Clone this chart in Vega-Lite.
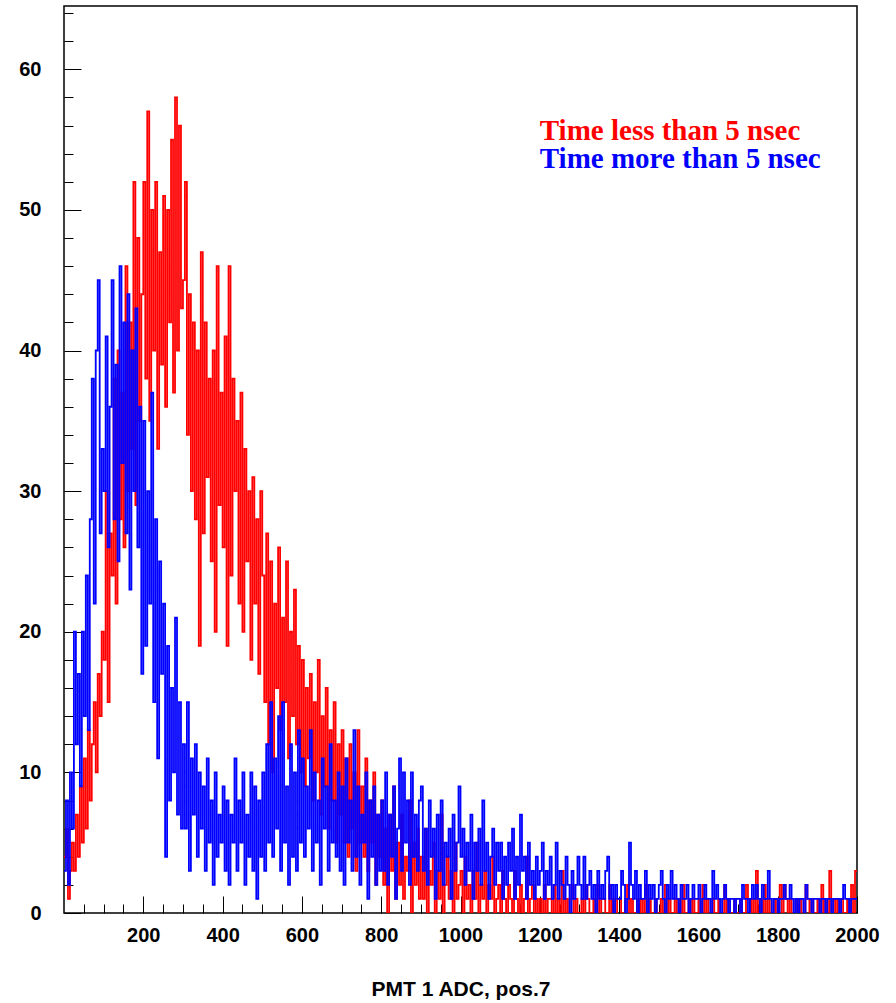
{
"$schema":"https://vega.github.io/schema/vega-lite/v6.json",
"width":793,"height":907,
"autosize":{"type":"none"},
"padding":{"left":64,"top":6,"right":39,"bottom":90},
"background":"white",
"config":{"view":{"stroke":"black","strokeWidth":1.5}},
"data":{"values":[
{"x":0,"r":4,"b":3},{"x":5,"r":6,"b":8},{"x":10,"r":1,"b":2},{"x":15,"r":3,"b":10},{"x":20,"r":5,"b":6},{"x":25,"r":3,"b":20},{"x":30,"r":7,"b":12},{"x":35,"r":4,"b":17},{"x":40,"r":9,"b":9},{"x":45,"r":5,"b":20},{"x":50,"r":11,"b":14},{"x":55,"r":6,"b":24},{"x":60,"r":13,"b":13},{"x":65,"r":8,"b":28},{"x":70,"r":12,"b":38},{"x":75,"r":15,"b":22},{"x":80,"r":10,"b":40},{"x":85,"r":17,"b":45},{"x":90,"r":14,"b":27},{"x":95,"r":20,"b":33},
{"x":100,"r":18,"b":30},{"x":105,"r":30,"b":41},{"x":110,"r":15,"b":26},{"x":115,"r":27,"b":36},{"x":120,"r":24,"b":45},{"x":125,"r":38,"b":28},{"x":130,"r":22,"b":39},{"x":135,"r":40,"b":25},{"x":140,"r":28,"b":46},{"x":145,"r":37,"b":32},{"x":150,"r":26,"b":42},{"x":155,"r":46,"b":27},{"x":160,"r":30,"b":44},{"x":165,"r":42,"b":23},{"x":170,"r":33,"b":40},{"x":175,"r":52,"b":30},{"x":180,"r":29,"b":43},{"x":185,"r":48,"b":26},{"x":190,"r":35,"b":36},{"x":195,"r":44,"b":17},
{"x":200,"r":52,"b":35},{"x":205,"r":38,"b":19},{"x":210,"r":57,"b":30},{"x":215,"r":35,"b":22},{"x":220,"r":50,"b":37},{"x":225,"r":40,"b":15},{"x":230,"r":52,"b":28},{"x":235,"r":33,"b":11},{"x":240,"r":47,"b":25},{"x":245,"r":39,"b":17},{"x":250,"r":51,"b":22},{"x":255,"r":36,"b":4},{"x":260,"r":50,"b":19},{"x":265,"r":42,"b":8},{"x":270,"r":55,"b":16},{"x":275,"r":37,"b":10},{"x":280,"r":58,"b":21},{"x":285,"r":40,"b":7},{"x":290,"r":56,"b":15},{"x":295,"r":43,"b":6},
{"x":300,"r":45,"b":12},{"x":305,"r":52,"b":6},{"x":310,"r":34,"b":15},{"x":315,"r":44,"b":3},{"x":320,"r":30,"b":11},{"x":325,"r":42,"b":7},{"x":330,"r":28,"b":12},{"x":335,"r":40,"b":4},{"x":340,"r":19,"b":10},{"x":345,"r":47,"b":6},{"x":350,"r":27,"b":9},{"x":355,"r":42,"b":3},{"x":360,"r":31,"b":11},{"x":365,"r":38,"b":5},{"x":370,"r":25,"b":8},{"x":375,"r":40,"b":2},{"x":380,"r":20,"b":10},{"x":385,"r":46,"b":4},{"x":390,"r":29,"b":7},{"x":395,"r":37,"b":5},
{"x":400,"r":26,"b":9},{"x":405,"r":41,"b":3},{"x":410,"r":19,"b":8},{"x":415,"r":46,"b":2},{"x":420,"r":24,"b":7},{"x":425,"r":38,"b":5},{"x":430,"r":30,"b":11},{"x":435,"r":35,"b":3},{"x":440,"r":22,"b":8},{"x":445,"r":37,"b":5},{"x":450,"r":20,"b":10},{"x":455,"r":33,"b":2},{"x":460,"r":25,"b":7},{"x":465,"r":30,"b":4},{"x":470,"r":18,"b":10},{"x":475,"r":31,"b":3},{"x":480,"r":22,"b":9},{"x":485,"r":28,"b":1},{"x":490,"r":17,"b":8},{"x":495,"r":30,"b":4},
{"x":500,"r":24,"b":10},{"x":505,"r":15,"b":3},{"x":510,"r":27,"b":12},{"x":515,"r":12,"b":5},{"x":520,"r":25,"b":15},{"x":525,"r":10,"b":4},{"x":530,"r":22,"b":11},{"x":535,"r":16,"b":6},{"x":540,"r":26,"b":14},{"x":545,"r":13,"b":3},{"x":550,"r":21,"b":15},{"x":555,"r":15,"b":5},{"x":560,"r":25,"b":9},{"x":565,"r":11,"b":2},{"x":570,"r":20,"b":12},{"x":575,"r":14,"b":4},{"x":580,"r":23,"b":10},{"x":585,"r":12,"b":3},{"x":590,"r":19,"b":13},{"x":595,"r":10,"b":5},
{"x":600,"r":18,"b":11},{"x":605,"r":9,"b":4},{"x":610,"r":16,"b":9},{"x":615,"r":11,"b":6},{"x":620,"r":17,"b":13},{"x":625,"r":8,"b":3},{"x":630,"r":15,"b":10},{"x":635,"r":10,"b":5},{"x":640,"r":18,"b":8},{"x":645,"r":7,"b":2},{"x":650,"r":14,"b":11},{"x":655,"r":9,"b":6},{"x":660,"r":16,"b":9},{"x":665,"r":6,"b":3},{"x":670,"r":13,"b":12},{"x":675,"r":8,"b":5},{"x":680,"r":15,"b":8},{"x":685,"r":5,"b":4},{"x":690,"r":12,"b":10},{"x":695,"r":7,"b":3},
{"x":700,"r":13,"b":9},{"x":705,"r":5,"b":2},{"x":710,"r":11,"b":11},{"x":715,"r":4,"b":5},{"x":720,"r":12,"b":8},{"x":725,"r":6,"b":3},{"x":730,"r":10,"b":13},{"x":735,"r":3,"b":4},{"x":740,"r":13,"b":9},{"x":745,"r":5,"b":2},{"x":750,"r":9,"b":7},{"x":755,"r":4,"b":5},{"x":760,"r":11,"b":10},{"x":765,"r":3,"b":1},{"x":770,"r":8,"b":8},{"x":775,"r":5,"b":4},{"x":780,"r":10,"b":9},{"x":785,"r":2,"b":2},{"x":790,"r":7,"b":7},{"x":795,"r":4,"b":3},
{"x":800,"r":8,"b":8},{"x":805,"r":2,"b":3},{"x":810,"r":6,"b":10},{"x":815,"r":0,"b":2},{"x":820,"r":7,"b":7},{"x":825,"r":3,"b":4},{"x":830,"r":9,"b":9},{"x":835,"r":1,"b":1},{"x":840,"r":5,"b":6},{"x":845,"r":2,"b":11},{"x":850,"r":7,"b":3},{"x":855,"r":1,"b":10},{"x":860,"r":4,"b":5},{"x":865,"r":3,"b":8},{"x":870,"r":8,"b":2},{"x":875,"r":0,"b":10},{"x":880,"r":5,"b":4},{"x":885,"r":2,"b":7},{"x":890,"r":6,"b":3},{"x":895,"r":1,"b":8},
{"x":900,"r":4,"b":9},{"x":905,"r":1,"b":3},{"x":910,"r":6,"b":6},{"x":915,"r":0,"b":2},{"x":920,"r":3,"b":8},{"x":925,"r":2,"b":4},{"x":930,"r":5,"b":6},{"x":935,"r":0,"b":1},{"x":940,"r":3,"b":7},{"x":945,"r":1,"b":3},{"x":950,"r":7,"b":8},{"x":955,"r":0,"b":2},{"x":960,"r":2,"b":5},{"x":965,"r":4,"b":4},{"x":970,"r":1,"b":6},{"x":975,"r":3,"b":1},{"x":980,"r":0,"b":7},{"x":985,"r":5,"b":3},{"x":990,"r":1,"b":5},{"x":995,"r":2,"b":9},
{"x":1000,"r":3,"b":4},{"x":1005,"r":0,"b":6},{"x":1010,"r":4,"b":2},{"x":1015,"r":1,"b":5},{"x":1020,"r":2,"b":3},{"x":1025,"r":0,"b":7},{"x":1030,"r":3,"b":1},{"x":1035,"r":1,"b":5},{"x":1040,"r":5,"b":3},{"x":1045,"r":0,"b":6},{"x":1050,"r":2,"b":2},{"x":1055,"r":1,"b":8},{"x":1060,"r":3,"b":3},{"x":1065,"r":0,"b":5},{"x":1070,"r":2,"b":1},{"x":1075,"r":1,"b":4},{"x":1080,"r":4,"b":6},{"x":1085,"r":0,"b":2},{"x":1090,"r":1,"b":5},{"x":1095,"r":2,"b":3},
{"x":1100,"r":0,"b":5},{"x":1105,"r":3,"b":1},{"x":1110,"r":1,"b":4},{"x":1115,"r":0,"b":2},{"x":1120,"r":2,"b":5},{"x":1125,"r":1,"b":3},{"x":1130,"r":0,"b":6},{"x":1135,"r":3,"b":1},{"x":1140,"r":1,"b":4},{"x":1145,"r":0,"b":2},{"x":1150,"r":2,"b":7},{"x":1155,"r":0,"b":3},{"x":1160,"r":1,"b":4},{"x":1165,"r":4,"b":1},{"x":1170,"r":0,"b":5},{"x":1175,"r":1,"b":2},{"x":1180,"r":2,"b":3},{"x":1185,"r":0,"b":1},{"x":1190,"r":1,"b":4},{"x":1195,"r":0,"b":2},
{"x":1200,"r":1,"b":3},{"x":1205,"r":0,"b":5},{"x":1210,"r":2,"b":1},{"x":1215,"r":0,"b":3},{"x":1220,"r":1,"b":2},{"x":1225,"r":1,"b":4},{"x":1230,"r":0,"b":1},{"x":1235,"r":2,"b":2},{"x":1240,"r":0,"b":5},{"x":1245,"r":1,"b":1},{"x":1250,"r":0,"b":3},{"x":1255,"r":3,"b":2},{"x":1260,"r":0,"b":1},{"x":1265,"r":1,"b":4},{"x":1270,"r":0,"b":2},{"x":1275,"r":1,"b":0},{"x":1280,"r":2,"b":3},{"x":1285,"r":0,"b":1},{"x":1290,"r":1,"b":2},{"x":1295,"r":0,"b":4},
{"x":1300,"r":0,"b":2},{"x":1305,"r":1,"b":1},{"x":1310,"r":0,"b":4},{"x":1315,"r":2,"b":1},{"x":1320,"r":1,"b":2},{"x":1325,"r":0,"b":3},{"x":1330,"r":0,"b":1},{"x":1335,"r":1,"b":2},{"x":1340,"r":0,"b":0},{"x":1345,"r":2,"b":3},{"x":1350,"r":0,"b":1},{"x":1355,"r":1,"b":2},{"x":1360,"r":1,"b":1},{"x":1365,"r":0,"b":3},{"x":1370,"r":0,"b":4},{"x":1375,"r":2,"b":1},{"x":1380,"r":0,"b":2},{"x":1385,"r":1,"b":0},{"x":1390,"r":0,"b":2},{"x":1395,"r":1,"b":1},
{"x":1400,"r":1,"b":1},{"x":1405,"r":0,"b":3},{"x":1410,"r":0,"b":2},{"x":1415,"r":1,"b":0},{"x":1420,"r":2,"b":1},{"x":1425,"r":0,"b":5},{"x":1430,"r":1,"b":2},{"x":1435,"r":0,"b":1},{"x":1440,"r":0,"b":3},{"x":1445,"r":1,"b":0},{"x":1450,"r":0,"b":2},{"x":1455,"r":1,"b":1},{"x":1460,"r":0,"b":1},{"x":1465,"r":2,"b":3},{"x":1470,"r":0,"b":0},{"x":1475,"r":1,"b":2},{"x":1480,"r":0,"b":1},{"x":1485,"r":0,"b":2},{"x":1490,"r":1,"b":0},{"x":1495,"r":0,"b":1},
{"x":1500,"r":0,"b":2},{"x":1505,"r":1,"b":3},{"x":1510,"r":0,"b":1},{"x":1515,"r":2,"b":0},{"x":1520,"r":0,"b":2},{"x":1525,"r":1,"b":1},{"x":1530,"r":0,"b":3},{"x":1535,"r":0,"b":1},{"x":1540,"r":1,"b":2},{"x":1545,"r":0,"b":1},{"x":1550,"r":1,"b":0},{"x":1555,"r":0,"b":2},{"x":1560,"r":2,"b":1},{"x":1565,"r":0,"b":1},{"x":1570,"r":0,"b":2},{"x":1575,"r":1,"b":0},{"x":1580,"r":0,"b":1},{"x":1585,"r":1,"b":2},{"x":1590,"r":0,"b":1},{"x":1595,"r":0,"b":1},
{"x":1600,"r":1,"b":2},{"x":1605,"r":0,"b":0},{"x":1610,"r":2,"b":1},{"x":1615,"r":0,"b":2},{"x":1620,"r":1,"b":1},{"x":1625,"r":0,"b":1},{"x":1630,"r":0,"b":0},{"x":1635,"r":1,"b":3},{"x":1640,"r":0,"b":1},{"x":1645,"r":0,"b":2},{"x":1650,"r":1,"b":1},{"x":1655,"r":0,"b":0},{"x":1660,"r":0,"b":1},{"x":1665,"r":2,"b":2},{"x":1670,"r":0,"b":1},{"x":1675,"r":1,"b":0},{"x":1680,"r":0,"b":1},{"x":1685,"r":0,"b":1},{"x":1690,"r":1,"b":0},{"x":1695,"r":0,"b":1},
{"x":1700,"r":0,"b":1},{"x":1705,"r":1,"b":0},{"x":1710,"r":0,"b":2},{"x":1715,"r":0,"b":1},{"x":1720,"r":2,"b":1},{"x":1725,"r":1,"b":0},{"x":1730,"r":0,"b":1},{"x":1735,"r":1,"b":2},{"x":1740,"r":0,"b":1},{"x":1745,"r":3,"b":2},{"x":1750,"r":0,"b":1},{"x":1755,"r":1,"b":0},{"x":1760,"r":0,"b":2},{"x":1765,"r":2,"b":1},{"x":1770,"r":0,"b":1},{"x":1775,"r":1,"b":3},{"x":1780,"r":0,"b":1},{"x":1785,"r":0,"b":0},{"x":1790,"r":1,"b":1},{"x":1795,"r":0,"b":1},
{"x":1800,"r":1,"b":0},{"x":1805,"r":2,"b":1},{"x":1810,"r":0,"b":1},{"x":1815,"r":2,"b":2},{"x":1820,"r":1,"b":1},{"x":1825,"r":0,"b":1},{"x":1830,"r":1,"b":2},{"x":1835,"r":0,"b":1},{"x":1840,"r":0,"b":0},{"x":1845,"r":1,"b":1},{"x":1850,"r":0,"b":0},{"x":1855,"r":1,"b":1},{"x":1860,"r":0,"b":1},{"x":1865,"r":0,"b":0},{"x":1870,"r":2,"b":2},{"x":1875,"r":1,"b":1},{"x":1880,"r":0,"b":1},{"x":1885,"r":1,"b":0},{"x":1890,"r":0,"b":1},{"x":1895,"r":0,"b":1},
{"x":1900,"r":1,"b":1},{"x":1905,"r":0,"b":0},{"x":1910,"r":2,"b":1},{"x":1915,"r":0,"b":1},{"x":1920,"r":1,"b":0},{"x":1925,"r":0,"b":1},{"x":1930,"r":3,"b":1},{"x":1935,"r":0,"b":0},{"x":1940,"r":1,"b":1},{"x":1945,"r":0,"b":1},{"x":1950,"r":1,"b":1},{"x":1955,"r":0,"b":0},{"x":1960,"r":1,"b":1},{"x":1965,"r":0,"b":2},{"x":1970,"r":0,"b":1},{"x":1975,"r":1,"b":1},{"x":1980,"r":0,"b":0},{"x":1985,"r":2,"b":1},{"x":1990,"r":0,"b":1},{"x":1995,"r":3,"b":1},
{"x":2000,"r":3,"b":1}
]},
"resolve":{"axis":{"x":"independent","y":"independent"}},
"layer":[
{"mark":{"type":"line","interpolate":"step-after","color":"#ff0000","strokeWidth":1.8,"clip":true},
 "encoding":{
  "x":{"field":"x","type":"quantitative","scale":{"domain":[0,2000],"nice":false,"zero":false},
   "axis":{"orient":"bottom","values":[200,400,600,800,1000,1200,1400,1600,1800,2000],
    "format":"d","domain":false,"grid":false,"labelFlush":false,"labelOverlap":false,
    "tickColor":"black","tickWidth":1,"tickSize":-17,
    "labelPadding":29,"labelFont":"Liberation Sans","labelFontWeight":"bold","labelFontSize":20,"labelColor":"black",
    "title":"PMT 1 ADC, pos.7","titleFont":"Liberation Sans","titleFontWeight":"bold","titleFontSize":21,"titleColor":"black","titlePadding":33}},
  "y":{"field":"r","type":"quantitative","scale":{"domain":[0,64.5],"nice":false,"zero":true},
   "axis":{"orient":"left","values":[0,10,20,30,40,50,60],
    "format":"d","domain":false,"grid":false,"labelOverlap":false,
    "tickColor":"black","tickWidth":1,"tickSize":-17,
    "labelPadding":40,"labelFont":"Liberation Sans","labelFontWeight":"bold","labelFontSize":20,"labelColor":"black","title":null}}}},
{"mark":{"type":"line","interpolate":"step-after","color":"#0000ff","strokeWidth":1.8,"clip":true},
 "encoding":{
  "x":{"field":"x","type":"quantitative",
   "axis":{"orient":"bottom","values":[50,100,150,250,300,350,450,500,550,650,700,750,850,900,950,1050,1100,1150,1250,1300,1350,1450,1500,1550,1650,1700,1750,1850,1900,1950],
    "labels":false,"domain":false,"grid":false,"tickColor":"black","tickWidth":1,"tickSize":-9,"title":null}},
  "y":{"field":"b","type":"quantitative",
   "axis":{"orient":"left","values":[2,4,6,8,12,14,16,18,22,24,26,28,32,34,36,38,42,44,46,48,52,54,56,58,62,64],
    "labels":false,"domain":false,"grid":false,"tickColor":"black","tickWidth":1,"tickSize":-9,"title":null}}}},
{"data":{"values":[{}]},
 "mark":{"type":"text","text":"Time less than 5 nsec","font":"Liberation Serif","fontWeight":"bold","fontSize":29,"color":"#ff0000","align":"left","baseline":"alphabetic"},
 "encoding":{"x":{"datum":1200,"type":"quantitative","axis":null},"y":{"datum":54.97,"type":"quantitative","axis":null}}},
{"data":{"values":[{}]},
 "mark":{"type":"text","text":"Time more than 5 nsec","font":"Liberation Serif","fontWeight":"bold","fontSize":29,"color":"#0000ff","align":"left","baseline":"alphabetic"},
 "encoding":{"x":{"datum":1200,"type":"quantitative","axis":null},"y":{"datum":52.95,"type":"quantitative","axis":null}}}
]
}
